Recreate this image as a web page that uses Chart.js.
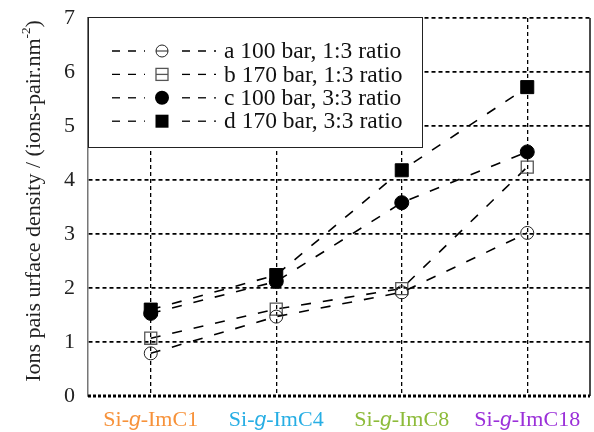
<!DOCTYPE html>
<html>
<head>
<meta charset="utf-8">
<script src="https://cdn.jsdelivr.net/npm/chart.js@4/dist/chart.umd.min.js"></script>
<style>
  html, body { margin: 0; padding: 0; background: #fff; }
  #wrap { width: 594px; height: 432px; }
</style>
</head>
<body>
<div id="wrap"><canvas id="c" width="594" height="432"></canvas></div>
<script>
// Ion-pair surface density per grafted silica, four synthesis conditions
const categories = ['Si-g-ImC1', 'Si-g-ImC4', 'Si-g-ImC8', 'Si-g-ImC18'];
const seriesA = [0.79, 1.47, 1.92, 3.02];
const seriesB = [1.07, 1.61, 1.99, 4.24];
const seriesC = [1.53, 2.12, 3.58, 4.52];
const seriesD = [1.60, 2.24, 4.18, 5.72];
const seriesNames = ['a 100 bar, 1:3 ratio', 'b 170 bar, 1:3 ratio', 'c 100 bar, 3:3 ratio', 'd 170 bar, 3:3 ratio'];
const yTicks = [0, 1, 2, 3, 4, 5, 6, 7];
const yTitleMain = 'Ions pais urface density / (ions-pair.nm';
const yTitleSup = '-2';
const yTitleEnd = ')';

const categoryColors = ['#F7923A', '#27AEE4', '#8DBB3A', '#9B30D9'];
const SERIF = '"Liberation Serif", "Times New Roman", serif';
const SANS = '"Liberation Sans", Arial, sans-serif';
const FS = 22;

const markerStyles = [
  { pointStyle: 'circle', radius: 6.5, fill: 'rgba(0,0,0,0)', stroke: '#222', width: 1, bar: true },
  { pointStyle: 'rect', radius: 8.5, fill: 'rgba(0,0,0,0)', stroke: '#555', width: 1.3, bar: true },
  { pointStyle: 'circle', radius: 7, fill: '#000', stroke: '#000', width: 1, bar: false },
  { pointStyle: 'rect', radius: 9.2, fill: '#000', stroke: '#000', width: 1, bar: false }
];

const allSeries = [seriesA, seriesB, seriesC, seriesD];
const datasets = allSeries.map((vals, i) => ({
  label: seriesNames[i],
  data: vals,
  borderColor: '#000',
  borderWidth: 1.6,
  borderDash: [10, 12],
  tension: 0,
  fill: false,
  pointStyle: markerStyles[i].pointStyle,
  pointRadius: markerStyles[i].radius,
  pointHoverRadius: markerStyles[i].radius,
  pointBackgroundColor: markerStyles[i].fill,
  pointBorderColor: markerStyles[i].stroke,
  pointBorderWidth: markerStyles[i].width
}));

// frame: thick dotted baseline and solid right edge
const framePlugin = {
  id: 'frame',
  beforeDatasetsDraw(chart) {
    const { ctx, chartArea: a } = chart;
    ctx.save();
    ctx.strokeStyle = '#000';
    ctx.lineWidth = 3;
    ctx.setLineDash([3, 2]);
    ctx.beginPath();
    ctx.moveTo(a.left, a.bottom);
    ctx.lineTo(a.right, a.bottom);
    ctx.stroke();
    ctx.setLineDash([]);
    ctx.lineWidth = 1.5;
    ctx.strokeStyle = '#111';
    ctx.beginPath();
    ctx.moveTo(a.right, a.top);
    ctx.lineTo(a.right, a.bottom);
    ctx.stroke();
    ctx.restore();
  }
};

function drawLegendMarker(ctx, x, y, m) {
  ctx.save();
  ctx.lineWidth = m.width;
  ctx.strokeStyle = m.stroke;
  ctx.fillStyle = m.fill;
  ctx.setLineDash([]);
  if (m.pointStyle === 'circle') {
    const r = m.fill === '#000' ? 7 : 6;
    ctx.beginPath();
    ctx.arc(x, y, r, 0, Math.PI * 2);
    if (m.fill === '#000') ctx.fill(); else ctx.stroke();
    if (m.bar) { ctx.beginPath(); ctx.moveTo(x - r, y); ctx.lineTo(x + r, y); ctx.stroke(); }
  } else {
    const h = m.fill === '#000' ? 6.5 : 6;
    if (m.fill === '#000') ctx.fillRect(x - h, y - h, 2 * h, 2 * h);
    else ctx.strokeRect(x - h, y - h, 2 * h, 2 * h);
    if (m.bar) { ctx.beginPath(); ctx.moveTo(x - h, y); ctx.lineTo(x + h, y); ctx.stroke(); }
  }
  ctx.restore();
}

const textPlugin = {
  id: 'texts',
  afterDraw(chart) {
    const { ctx, chartArea: a } = chart;
    const xs = chart.scales.x;
    ctx.save();
    // category labels with italic "g"
    ctx.textBaseline = 'alphabetic';
    categories.forEach((lab, i) => {
      const k = lab.indexOf('-g-');
      const parts = [
        { t: lab.slice(0, k + 1), f: `${FS}px ${SERIF}` },
        { t: 'g', f: `italic ${FS - 1}px ${SANS}` },
        { t: lab.slice(k + 2), f: `${FS}px ${SERIF}` }
      ];
      let total = 0;
      parts.forEach(p => { ctx.font = p.f; p.w = ctx.measureText(p.t).width; total += p.w; });
      let x = xs.getPixelForTick(i) - total / 2;
      ctx.fillStyle = categoryColors[i];
      ctx.textAlign = 'left';
      parts.forEach(p => { ctx.font = p.f; ctx.fillText(p.t, x, a.bottom + 30); x += p.w; });
    });

    // y-axis title with superscript
    ctx.save();
    ctx.translate(40, (a.top + a.bottom) / 2 - 6);
    ctx.rotate(-Math.PI / 2);
    ctx.fillStyle = '#222';
    ctx.font = `${FS}px ${SERIF}`;
    const w1 = ctx.measureText(yTitleMain).width;
    ctx.font = `${FS * 0.6}px ${SERIF}`;
    const w2 = ctx.measureText(yTitleSup).width;
    ctx.font = `${FS}px ${SERIF}`;
    const w3 = ctx.measureText(yTitleEnd).width;
    let x = -(w1 + w2 + w3) / 2;
    ctx.textAlign = 'left';
    ctx.fillText(yTitleMain, x, 0); x += w1;
    ctx.font = `${FS * 0.6}px ${SERIF}`;
    ctx.fillText(yTitleSup, x, -10); x += w2;
    ctx.font = `${FS}px ${SERIF}`;
    ctx.fillText(yTitleEnd, x, 0);
    ctx.restore();

    // legend box
    const bx = a.left, by = a.top - 1, bw = 334, bh = 130;
    ctx.fillStyle = '#fff';
    ctx.fillRect(bx, by, bw, bh);
    ctx.strokeStyle = '#222';
    ctx.lineWidth = 1;
    ctx.strokeRect(bx + 0.5, by + 0.5, bw, bh);
    const rowY0 = by + 34, rowH = 23.4;
    seriesNames.forEach((name, i) => {
      const y = rowY0 + i * rowH;
      ctx.save();
      ctx.strokeStyle = '#000';
      ctx.lineWidth = 1.3;
      ctx.setLineDash([8, 8]);
      ctx.beginPath(); ctx.moveTo(bx + 24, y); ctx.lineTo(bx + 57, y); ctx.stroke();
      ctx.beginPath(); ctx.moveTo(bx + 94, y); ctx.lineTo(bx + 128, y); ctx.stroke();
      ctx.restore();
      drawLegendMarker(ctx, bx + 74, y, markerStyles[i]);
      ctx.fillStyle = '#111';
      ctx.font = `23.5px ${SERIF}`;
      ctx.textAlign = 'left';
      ctx.textBaseline = 'middle';
      ctx.fillText(name, bx + 136, y + 1);
    });
    ctx.restore();
  }
};

new Chart(document.getElementById('c'), {
  type: 'line',
  data: { labels: categories, datasets },
  options: {
    responsive: false,
    animation: false,
    devicePixelRatio: 1,
    layout: { autoPadding: false, padding: { top: 18, right: 4, left: 0, bottom: 0 } },
    plugins: { legend: { display: false }, tooltip: { enabled: false } },
    scales: {
      x: {
        type: 'category',
        offset: true,
        ticks: { display: false },
        grid: { offset: false, color: '#000', lineWidth: 1.3, drawTicks: false },
        border: { display: false, dash: [4, 3] },
        afterFit(s) { s.height = 36; s.paddingLeft = 0; s.paddingRight = 0; }
      },
      y: {
        min: 0,
        max: 7,
        afterBuildTicks(s) { s.ticks = yTicks.map(v => ({ value: v })); },
        ticks: {
          color: '#222',
          padding: 13,
          font: { family: SERIF, size: FS },
          callback: v => String(v)
        },
        grid: {
          drawTicks: false,
          lineWidth: 1.8,
          color: c => (c.tick && c.tick.value === 0) ? 'rgba(0,0,0,0)' : '#000'
        },
        border: { display: true, color: '#777', width: 1.5, dash: [4, 3] },
        afterFit(s) { s.width = 88; s.paddingTop = 0; s.paddingBottom = 0; }
      }
    }
  },
  plugins: [framePlugin, textPlugin]
});
</script>
</body>
</html>
